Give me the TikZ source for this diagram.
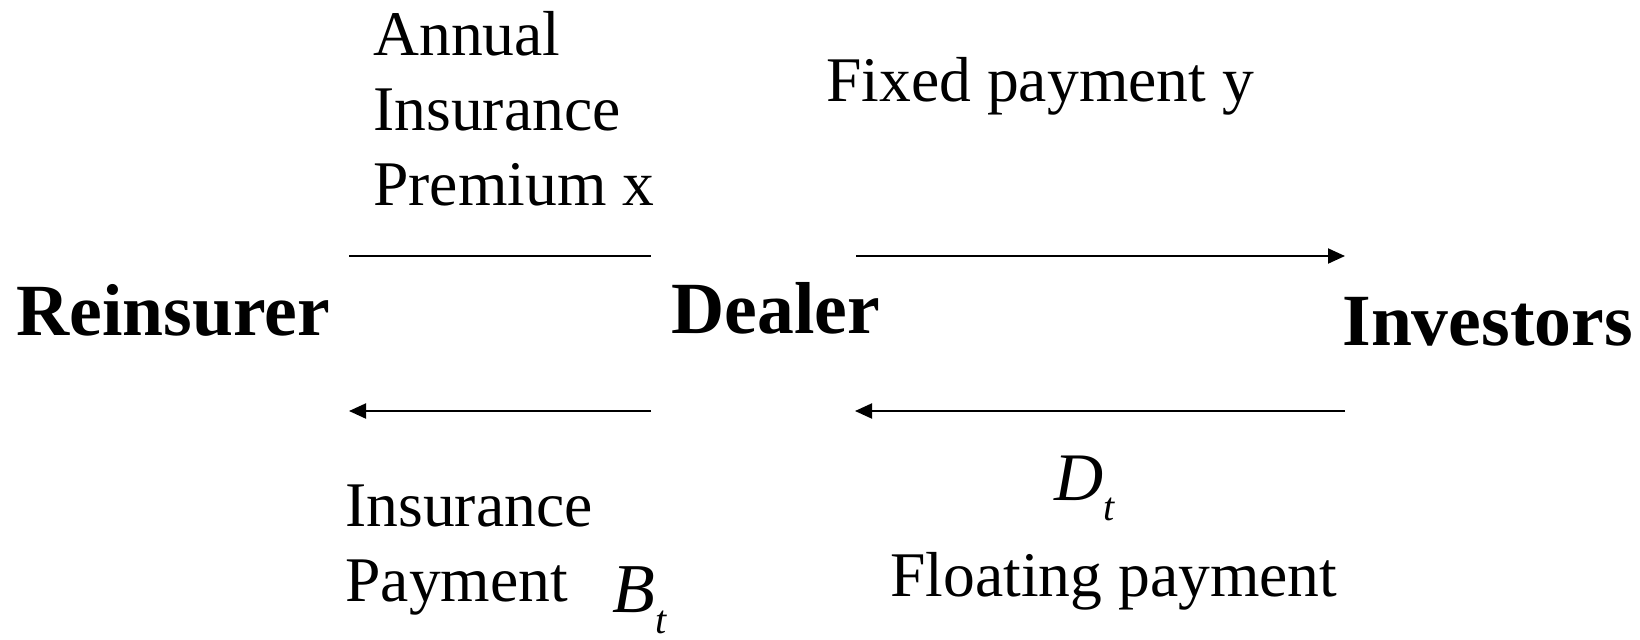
\documentclass[tikz,border=0pt]{standalone}
\usepackage{fontspec}
\setmainfont{Liberation Serif}
\usepackage{tikz}
\usetikzlibrary{positioning, arrows.meta}

\newcommand{\subt}[1]{\raisebox{-0.3em}{\fontsize{20pt}{20pt}\selectfont\itshape #1}}

\begin{document}
\begin{tikzpicture}[
    x=0.5pt, y=-0.5pt,
    party/.style={
        anchor=base west,
        inner sep=0pt,
        font=\fontsize{36.8pt}{36.8pt}\selectfont\bfseries
    },
    lbl/.style={
        anchor=base west,
        inner sep=0pt,
        font=\fontsize{31.8pt}{37.5pt}\selectfont,
        align=left
    },
    flow/.style={line width=1pt},
    arrow/.style={-{Triangle[length=8.5pt,width=7.5pt]}, line width=1pt}
]
\useasboundingbox (0,0) rectangle (1640,639);

% --- parties ---
\node[party] (reins) at (16,335) {Reinsurer};
\node[party] (dealer) at (671,333) {Dealer};
\node[party] (inv) at (1342,345) {Investors};

% --- arrow ends ---
\coordinate (pa) at (349,256);
\coordinate (pb) at (651,256);
\coordinate (fa) at (856,256);
\coordinate (fb) at (1345,256);
\coordinate (ba) at (651,411);
\coordinate (bb) at (349,411);
\coordinate (da) at (1345,411);
\coordinate (db) at (855,411);

% --- premium / fixed (top) ---
\draw[flow] (pa) -- (pb);
\draw[arrow] (fa) -- (fb);

% --- payments back (bottom) ---
\draw[arrow] (ba) -- (bb);
\draw[arrow] (da) -- (db);

% --- labels (base = last line) ---
\node[lbl] (premium) at (373,205) {Annual\\Insurance\\Premium x};
\node[lbl] (fixed) at (826,101) {Fixed payment y};
\node[lbl] (inspay) at (345,601) {Insurance\\Payment};
\node[lbl, font=\fontsize{35pt}{35pt}\selectfont\itshape] (bt) at (612,612) {B\subt{t}};
\node[lbl, font=\fontsize{34pt}{34pt}\selectfont\itshape] (dt) at (1054,500) {D\subt{t}};
\node[lbl] (floating) at (890,596) {Floating payment};

\end{tikzpicture}
\end{document}
